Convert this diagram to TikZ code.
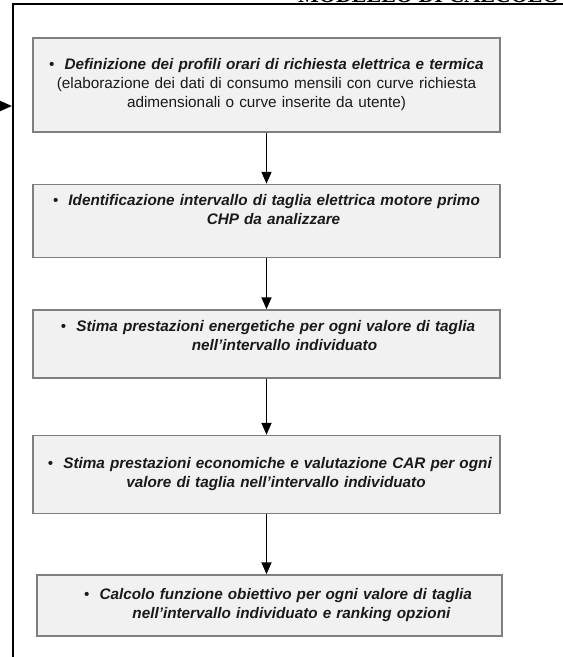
\documentclass[tikz,border=0pt]{standalone}
\usepackage{fontspec}
\setmainfont{Liberation Sans}
\newfontfamily\titlefont{Liberation Serif}
\usetikzlibrary{arrows.meta, positioning}
\definecolor{BoxGray}{HTML}{F1F1F1}
\definecolor{BoxBorder}{HTML}{7F7F7F}
\definecolor{TextBlack}{HTML}{1A1A1A}
\newcommand{\voce}{\textbullet\hspace{10pt}}
\tikzset{
    every node/.style={font=\fontsize{15.3}{19}\selectfont},
    % Step box style
    stepbox/.style={
        rectangle,
        draw=BoxBorder,
        fill=BoxGray,
        line width=1.5pt,
        minimum width=467pt,
        text width=460pt,
        inner sep=0pt,
        align=center,
        text=TextBlack
    },
    % Arrow style
    arrow/.style={
        -{Triangle[length=12pt,width=10pt]},
        line width=1.8pt,
        color=black
    },
    % Frame style
    frame/.style={
        line width=2.5pt,
        color=black
    },
    % Title style
    titletext/.style={
        font=\titlefont\bfseries\fontsize{22}{24}\selectfont,
        inner sep=0pt
    }
}

\begin{document}
\begin{tikzpicture}[x=1pt, y=1pt]
        \useasboundingbox (0,0) rectangle (563,-657);
        \clip (0,0) rectangle (563,-657);

        % Title (cut by the page)
        \node (title) [titletext, anchor=base west] at (298,-2.5) {MODELLO DI CALCOLO};

        % Frame
        \coordinate (frameTR) at (563,-4);
        \coordinate (frameBL) at (13,-657);
        \draw [frame] (frameTR) -| (frameBL);

        % Steps
        \node (profili) [stepbox, minimum height=94pt] at (266.5,-85) {
            \voce\textbf{\textit{Definizione dei profili orari di richiesta elettrica e termica}}\\
            (elaborazione dei dati di consumo mensili con curve richiesta\\
            adimensionali o curve inserite da utente)
        };
        \node (taglia) [stepbox, below=51pt of profili, minimum height=73pt, text depth=42pt] {
            \voce\textbf{\textit{Identificazione intervallo di taglia elettrica motore primo}}\\
            \hspace*{14pt}\textbf{\textit{CHP da analizzare}}
        };
        \node (energia) [stepbox, below=51pt of taglia, minimum height=68pt, text depth=37pt] {
            \hspace*{3pt}\voce\textbf{\textit{Stima prestazioni energetiche per ogni valore di taglia}}\\
            \hspace*{36pt}\textbf{\textit{nell’intervallo individuato}}
        };
        \node (economia) [stepbox, below=56pt of energia, minimum height=78pt] {
            \hspace*{7pt}\voce\textbf{\textit{Stima prestazioni economiche e valutazione CAR per ogni}}\\
            \hspace*{19pt}\textbf{\textit{valore di taglia nell’intervallo individuato}}
        };
        \node (obiettivo) [stepbox, below=60pt of economia, xshift=3pt, minimum width=465pt, minimum height=61pt] {
            \hspace*{17pt}\voce\textbf{\textit{Calcolo funzione obiettivo per ogni valore di taglia}}\\
            \hspace*{44pt}\textbf{\textit{nell’intervallo individuato e ranking opzioni}}
        };

        % Arrows
        \draw [arrow] (profili) -- (taglia);
        \draw [arrow] (taglia) -- (energia);
        \draw [arrow] (energia) -- (economia);
        \draw [arrow] (economia.south) -- (economia.south |- obiettivo.north);

        % Loop back into the frame
        \coordinate (ritorno) at (0,-106);
        \coordinate (ingresso) at (12,-106);
        \draw [arrow] (ritorno) -- (ingresso);
    \end{tikzpicture}
\end{document}
